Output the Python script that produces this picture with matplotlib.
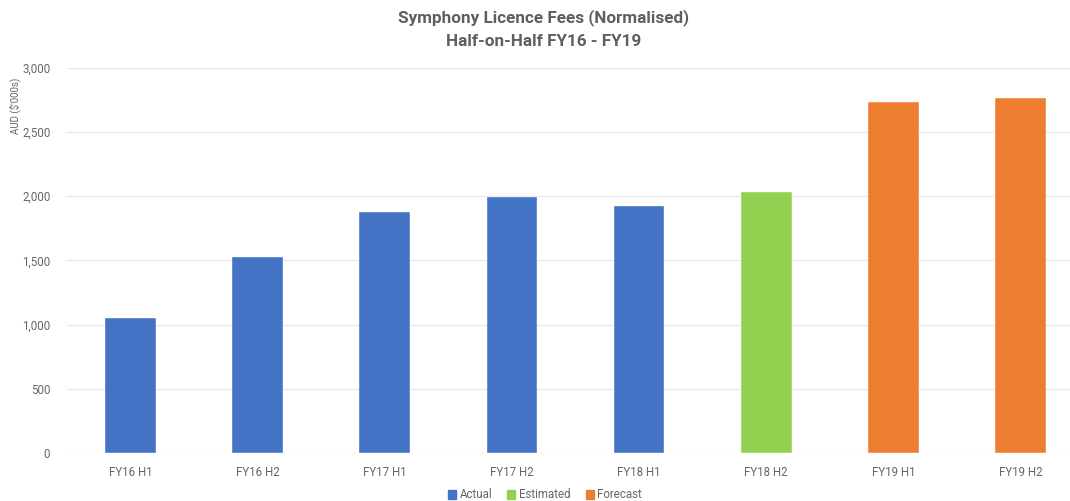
import matplotlib.pyplot as plt
import numpy as np
from matplotlib.patches import Patch

plt.rcParams['font.family'] = ['Roboto', 'DejaVu Sans']

periods = ['FY16 H1', 'FY16 H2', 'FY17 H1', 'FY17 H2',
           'FY18 H1', 'FY18 H2', 'FY19 H1', 'FY19 H2']
fees = [1055, 1525, 1875, 1990, 1925, 2035, 2735, 2765]
status = ['Actual', 'Actual', 'Actual', 'Actual',
          'Actual', 'Estimated', 'Forecast', 'Forecast']

colours = {'Actual': '#4472C4', 'Estimated': '#92D050', 'Forecast': '#ED7D31'}

fig = plt.figure(figsize=(10.70, 5.01), dpi=100)
ax = fig.add_axes([67 / 1070, 48 / 501, 1 - 67 / 1070, 385.3 / 501])

index = np.arange(len(periods))
ax.bar(index, fees, 0.4, color=[colours[s] for s in status], zorder=3,
       edgecolor='white', linewidth=0.3)

ax.set_ylim(0, 3000)
ax.set_xlim(-0.5, 7.39)
ax.set_yticks(np.arange(0, 3001, 500))
ax.set_yticklabels([f'{v:,}' for v in range(0, 3001, 500)])
ax.set_xticks(index)
ax.set_xticklabels(periods)
ax.tick_params(axis='both', length=0, colors='#666666', labelsize=8.3)
ax.tick_params(axis='y', pad=12)
ax.tick_params(axis='x', pad=9)
ax.grid(axis='y', color='#e8e8e8', linewidth=1, zorder=0)
for s in ax.spines.values():
    s.set_visible(False)

fig.text(544 / 1070, 1 - 18 / 501, 'Symphony Licence Fees (Normalised)',
         ha='center', va='center', fontsize=12.3, fontweight='bold', color='#5f5f5f')
fig.text(544 / 1070, 1 - 42 / 501, 'Half-on-Half FY16 - FY19',
         ha='center', va='center', fontsize=12.3, fontweight='bold', color='#5f5f5f')
fig.text(15 / 1070, 1 - 106 / 501, "AUD ($'000s)", rotation=90,
         ha='center', va='center', fontsize=7, color='#666666')

handles = [Patch(color=colours[k], label=k) for k in colours]
fig.legend(handles=handles, loc='center', bbox_to_anchor=(545 / 1070, 1 - 495 / 501),
           ncol=3, frameon=False, fontsize=8.3, handlelength=0.7, handleheight=0.7,
           handletextpad=0.3, columnspacing=1.3, labelcolor='#666666')

plt.savefig('out.png', dpi=100)
